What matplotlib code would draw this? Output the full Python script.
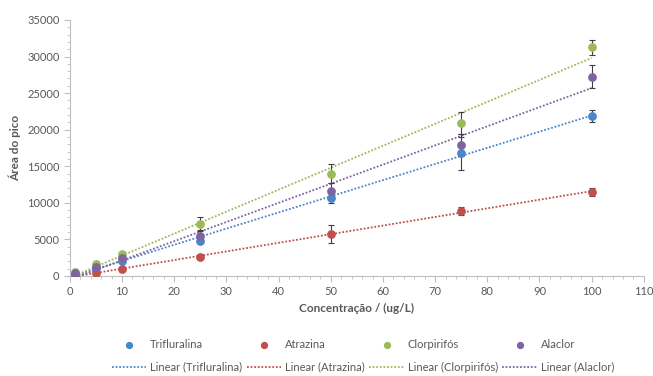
import numpy as np
import matplotlib.pyplot as plt
from matplotlib.ticker import MultipleLocator

plt.rcParams['font.family'] = ['Lato', 'DejaVu Sans']

conc = [1, 5, 10, 25, 50, 75, 100]
names = ['Trifluralina', 'Atrazina', 'Clorpirifós', 'Alaclor']

trifluralina = [300, 1150, 2050, 4850, 10700, 16750, 21900]
atrazina = [50, 400, 950, 2600, 5750, 8900, 11450]
clorpirifos = [500, 1650, 2950, 7100, 13950, 20950, 31250]
alaclor = [400, 1250, 2400, 5500, 11650, 17850, 27250]

err_tri = [150, 200, 250, 300, 700, 2250, 800]
err_atr = [100, 150, 150, 200, 1200, 550, 550]
err_clo = [150, 250, 300, 900, 1300, 1500, 1050]
err_ala = [150, 200, 250, 800, 1100, 1500, 1600]

series = [trifluralina, atrazina, clorpirifos, alaclor]
errors = [err_tri, err_atr, err_clo, err_ala]
colors = ['#4A86C8', '#C0504D', '#9BBB59', '#8064A2']

fig = plt.figure(figsize=(6.53, 3.76), dpi=100)
ax = fig.add_axes([0.107, 0.266, 0.879, 0.681])

marker_handles = []
line_handles = []
x = np.array(conc)
for name, y, e, c in zip(names, series, errors, colors):
    # linear trendline over the data range
    k, b = np.polyfit(x, y, 1)
    xs = np.array([x.min(), x.max()])
    ln, = ax.plot(xs, k * xs + b, ls=(0, (1, 1)), color=c, lw=1.3,
                  label='Linear (' + name + ')', zorder=2)
    ax.errorbar(x, y, yerr=e, fmt='none', ecolor='#404040', elinewidth=0.8,
                capsize=2.5, capthick=0.8, zorder=3)
    pt = ax.scatter(x, y, s=28, color=c, label=name, zorder=4)
    marker_handles.append(pt)
    line_handles.append(ln)

ax.set_xlim(0, 110)
ax.set_ylim(0, 35000)
ax.xaxis.set_major_locator(MultipleLocator(10))
ax.xaxis.set_minor_locator(MultipleLocator(2))
ax.yaxis.set_major_locator(MultipleLocator(5000))
ax.yaxis.set_minor_locator(MultipleLocator(1000))

for s in ['top', 'right']:
    ax.spines[s].set_visible(False)
for s in ['left', 'bottom']:
    ax.spines[s].set_color('#BFBFBF')
ax.tick_params(which='both', colors='#BFBFBF', labelcolor='#595959', labelsize=8)
ax.tick_params(which='major', length=4)
ax.tick_params(which='minor', length=2.5)

ax.set_xlabel('Concentração / (ug/L)', fontsize=8.5, fontweight='bold', color='#595959')
ax.set_ylabel('Área do pico', fontsize=8.5, fontweight='bold', color='#595959')

handles = []
for m, l in zip(marker_handles, line_handles):
    handles += [m, l]
fig.legend(handles=handles, labels=[h.get_label() for h in handles],
           ncol=4, loc='lower center', bbox_to_anchor=(0.556, -0.018),
           frameon=False, fontsize=8, labelcolor='#595959',
           handlelength=3.1, columnspacing=0.4, handletextpad=0.35,
           labelspacing=1.05, markerscale=0.8)

fig.savefig('out.png', dpi=100)
